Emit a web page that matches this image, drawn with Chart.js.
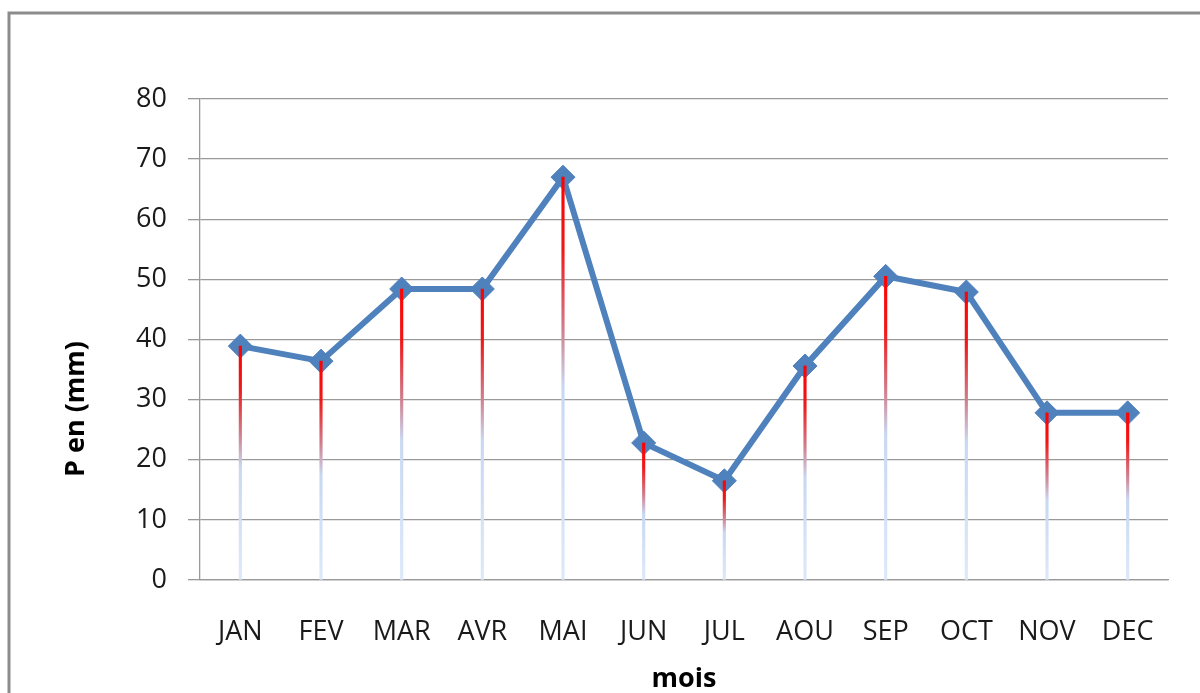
<!DOCTYPE html>
<html>
<head>
<meta charset="utf-8">
<script src="https://cdn.jsdelivr.net/npm/chart.js@4.4.0/dist/chart.umd.min.js"></script>
<style>
  html, body { margin: 0; padding: 0; background: #fff; overflow: hidden; }
  #c { display: block; }
</style>
</head>
<body>
<canvas id="c" width="1200" height="693"></canvas>
<script>
const months = ['JAN','FEV','MAR','AVR','MAI','JUN','JUL','AOU','SEP','OCT','NOV','DEC'];
const precipitation = [38.9, 36.4, 48.4, 48.4, 67.0, 22.8, 16.5, 35.6, 50.5, 47.9, 27.8, 27.8];
const yTicks = [0, 10, 20, 30, 40, 50, 60, 70, 80];
const xTitle = 'mois';
const yTitle = 'P en (mm)';

const FONT = '"Open Sans", "Noto Sans", sans-serif';

const framePlugin = {
  id: 'frame',
  beforeDraw(chart) {
    const ctx = chart.ctx;
    ctx.save();
    ctx.fillStyle = '#ffffff';
    ctx.fillRect(0, 0, chart.width, chart.height);
    ctx.strokeStyle = '#8c8c8c';
    ctx.lineWidth = 3;
    ctx.strokeRect(9, 13, chart.width + 50, chart.height + 50);
    ctx.restore();
  },
  afterDraw(chart) {
    const ctx = chart.ctx;
    const area = chart.chartArea;
    ctx.save();
    ctx.fillStyle = '#000';
    ctx.font = 'bold 27px ' + FONT;
    ctx.textAlign = 'center';
    ctx.textBaseline = 'middle';
    ctx.fillText(xTitle, (area.left + area.right) / 2, 679);
    ctx.translate(76, 409);
    ctx.rotate(-Math.PI / 2);
    ctx.fillText(yTitle, 0, 0);
    ctx.restore();
  }
};

function dropGradient(context) {
  const chart = context.chart;
  if (!chart.chartArea) return '#ff0000';
  const ys = chart.scales.y;
  const v = context.dataset.data[context.dataIndex];
  const top = ys.getPixelForValue(v);
  const bottom = ys.getPixelForValue(0);
  const g = chart.ctx.createLinearGradient(0, top, 0, bottom);
  g.addColorStop(0, '#ff0000');
  g.addColorStop(0.18, '#f01818');
  g.addColorStop(0.38, '#d08090');
  g.addColorStop(0.52, '#c8d8f2');
  g.addColorStop(1, '#dde9fa');
  return g;
}

new Chart(document.getElementById('c'), {
  data: {
    labels: months,
    datasets: [
      {
        type: 'bar',
        data: precipitation,
        backgroundColor: dropGradient,
        borderWidth: 0,
        barThickness: 2.5,
        order: 0
      },
      {
        type: 'line',
        data: precipitation,
        borderColor: '#4F81BD',
        backgroundColor: '#4F81BD',
        borderWidth: 6,
        tension: 0,
        pointStyle: 'rectRot',
        pointRadius: 12,
        pointBorderWidth: 1,
        pointBorderColor: '#4F81BD',
        pointBackgroundColor: '#4F81BD',
        order: 1
      }
    ]
  },
  options: {
    responsive: false,
    animation: false,
    events: [],
    layout: { padding: { top: 99, right: 32, left: 0, bottom: 0 } },
    plugins: {
      legend: { display: false },
      tooltip: { enabled: false },
      title: { display: false }
    },
    scales: {
      x: {
        offset: true,
        grid: { display: false, drawTicks: false },
        border: { display: true, color: '#999999', width: 1.3 },
        ticks: {
          color: '#1a1a1a',
          font: { family: FONT, size: 27 },
          padding: 36,
          maxRotation: 0,
          autoSkip: false
        },
        afterFit(scale) { scale.height = 113; }
      },
      y: {
        min: 0,
        max: 80,
        afterBuildTicks(scale) { scale.ticks = yTicks.map(v => ({ value: v })); },
        grid: { color: '#999999', lineWidth: 1.3, drawTicks: true, tickLength: 12 },
        border: { display: true, color: '#999999', width: 1.3 },
        ticks: {
          color: '#1a1a1a',
          font: { family: FONT, size: 27 },
          padding: 21
        },
        afterFit(scale) { scale.width = 200; }
      }
    }
  },
  plugins: [framePlugin]
});
</script>
</body>
</html>
